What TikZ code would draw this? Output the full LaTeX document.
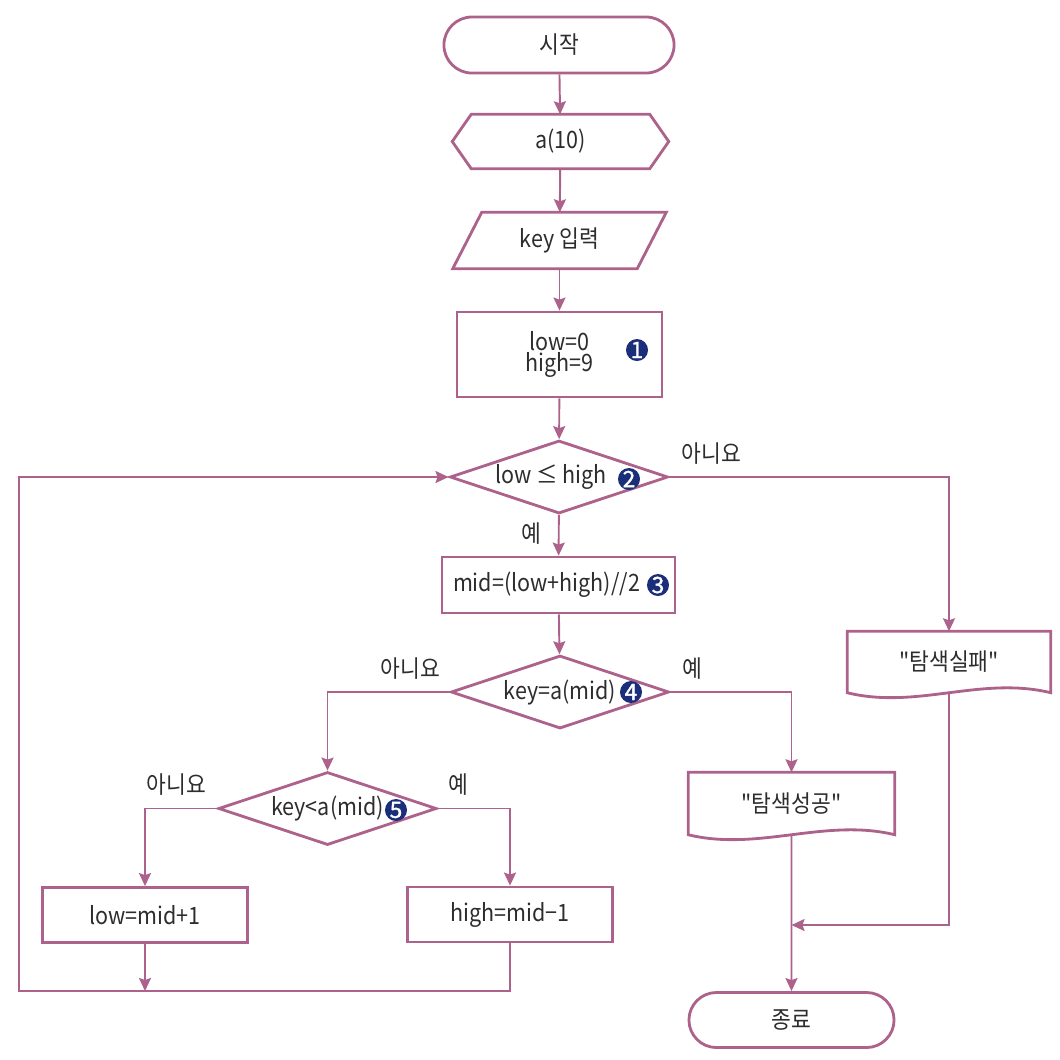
\documentclass[tikz,border=0pt]{standalone}
\usepackage{fontspec}
\setmainfont{Noto Sans CJK KR}[FakeStretch=0.9, Ligatures=TeXOff]
\newfontfamily\numfont{Noto Sans CJK KR}[FakeBold=1.5]
\usepackage{tikz}
\usetikzlibrary{arrows.meta,shapes.geometric,shapes.misc}
\definecolor{flow}{RGB}{172,98,138}
\definecolor{navy}{RGB}{27,46,122}
\definecolor{ink}{RGB}{45,45,45}
\tikzset{
	every node/.style={font=\fontsize{6.8}{8}\selectfont, text=ink},
	proc/.style={draw=flow, line width=0.8pt, rectangle, minimum width=2.05cm, minimum height=0.55cm, inner sep=0pt},
	term/.style={draw=flow, line width=0.8pt, rounded rectangle, minimum height=0.56cm, inner sep=0pt},
	cond/.style={draw=flow, line width=0.8pt, diamond, aspect=3, minimum width=2.18cm, minimum height=0.73cm, inner sep=0pt},
	plain/.style={rectangle, minimum height=0.55cm, inner sep=0pt},
	numb/.style={circle, fill=navy, text=white, inner sep=0pt, minimum size=0.22cm, font=\numfont\fontsize{6.4}{6.4}\selectfont},
	outline/.style={draw=flow, line width=0.8pt},
	link/.style={->, draw=flow, line width=0.55pt},
	>={Stealth[length=0.13cm, width=0.12cm, inset=0.02cm]}
}
\newcommand{\docshape}[1]{%
	\draw [outline] (#1.south west) .. controls +(0.7cm,-0.17cm) and +(-0.7cm,0.17cm) .. (#1.south east)
		-- (#1.north east) -- (#1.north west) -- cycle;}

\begin{document}
\begin{tikzpicture}[x=0.01cm, y=-0.01cm]
	\useasboundingbox (0,0) rectangle (1060,1059);
	\node [term, minimum width=2.30cm] (1) at (559,45) {시작};
	\node [plain, minimum width=2.15cm, minimum height=0.53cm] (2) at (560.5,141.5) {a(10)};
	\node [plain, minimum width=1.83cm] (3) at (559.5,240.5) {key 입력};
	\node [proc, minimum height=0.85cm, align=center, font=\fontsize{6.8}{5.9}\selectfont] (4) at (559.5,354.5) {low=0\\high=9};
	\node [cond] (5) at (559,477) {low ≤ high\kern0.16cm};
	\node [proc, minimum width=2.33cm, minimum height=0.56cm] (6) at (558.5,585) {mid=(low+high)//2\kern0.24cm};
	\node [cond] (7) at (560,692) {key=a(mid)};
	\node [cond] (8) at (327.5,808.5) {key<a(mid)};
	\node [proc] (9) at (145,915) {low=mid+1};
	\node [proc] (10) at (510,914.5) {high=mid−1};
	\node [plain, minimum width=2.05cm, minimum height=0.61cm] (11) at (791.5,803.5) {"탐색성공"};
	\node [plain, minimum width=2.02cm, minimum height=0.60cm] (12) at (949,662) {"탐색실패"};
	\node [term, minimum width=2.05cm, minimum height=0.55cm] (13) at (791.5,1020) {종료};
	%
	\node [numb] (n1) at (637,350) {1};
	\node [numb] (n2) at (629,479) {2};
	\node [numb] (n3) at (658,585) {3};
	\node [numb] (n4) at (631,692) {4};
	\node [numb] (n5) at (396,810) {5};
	%
	\coordinate (j) at (791.5,925);
	\coordinate (m) at (145,991);
	\coordinate (c) at (19,991);
	%
	\draw [outline] (2.west) -- ([xshift=0.19cm]2.north west) -- ([xshift=-0.19cm]2.north east)
		-- (2.east) -- ([xshift=-0.19cm]2.south east) -- ([xshift=0.19cm]2.south west) -- cycle;
	\draw [outline] ([xshift=0.145cm]3.north west) -- ([xshift=0.145cm]3.north east)
		-- ([xshift=-0.145cm]3.south east) -- ([xshift=-0.145cm]3.south west) -- cycle;
	\docshape{11}
	\docshape{12}
	%
	\draw [link] (1) to (2);
	\draw [link] (2) to (3);
	\draw [link] (3) to (4);
	\draw [link] (4) to (5);
	\draw [link] (5) to node[left, pos=0.45, xshift=-0.05cm] {예} (6);
	\draw [link] (6) to (7);
	\draw [link] (5) -| node[pos=0.075, above] {아니요} (12);
	\draw [link] (7) -| node[pos=0.16, above] {아니요} (8);
	\draw [link] (7) -| node[pos=0.09, above] {예} (11);
	\draw [link] (8) -| node[pos=0.28, above] {아니요} (9);
	\draw [link] (8) -| node[pos=0.14, above] {예} (10);
	\draw [link] (9) to (m);
	\draw [link] (10) |- (c) |- (5);
	\draw [link] (11) to (13);
	\draw [link] (12) |- (j);
\end{tikzpicture}
\end{document}
